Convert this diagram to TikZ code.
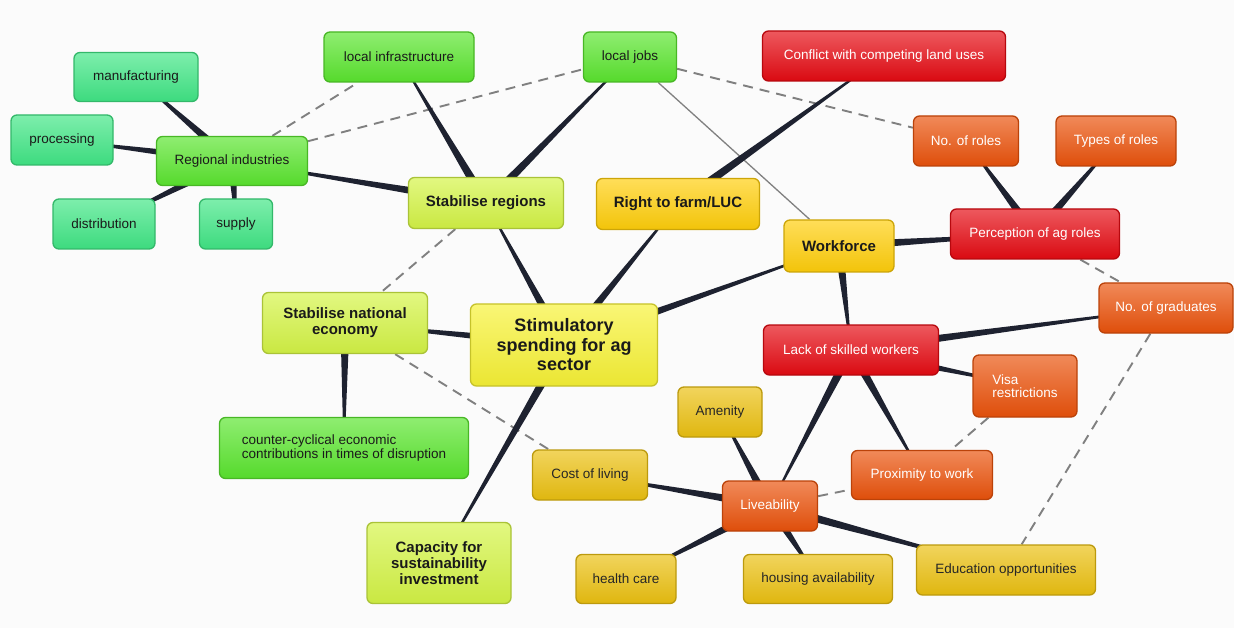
\documentclass[tikz,border=0pt]{standalone}
\usepackage{fontspec}
\setmainfont{Liberation Sans}
\usetikzlibrary{calc}

\definecolor{paper}{HTML}{FBFBFB}
\definecolor{mint}{HTML}{40E685}
\definecolor{leaf}{HTML}{5AE52E}
\definecolor{lime}{HTML}{D4F445}
\definecolor{lemon}{HTML}{F7F235}
\definecolor{gold}{HTML}{FFCE0A}
\definecolor{ochre}{HTML}{EBC010}
\definecolor{crimson}{HTML}{E50A12}
\definecolor{blaze}{HTML}{EA520B}
\definecolor{linkcol}{HTML}{1E2230}
\definecolor{inkdark}{HTML}{1A1A1A}

\pgfdeclarelayer{paperlayer}
\pgfdeclarelayer{links}
\pgfsetlayers{paperlayer,links,main}

% tapered connector: wide at the first node, narrow at the second
\newcommand\taper[2]{%
  \fill[linkcol] ($(#1)!4.6pt!90:(#2)$) -- ($(#2)!0.5pt!-90:(#1)$)
    -- ($(#2)!0.5pt!90:(#1)$) -- ($(#1)!4.6pt!-90:(#2)$) -- cycle;}

\tikzset{
  box/.style={rounded corners=6pt, line width=1.3pt, inner sep=0pt,
    align=center, text=inkdark, font=\fontsize{13.5}{14.5}\selectfont},
  sz/.style 2 args={minimum width=#1pt, minimum height=#2pt},
  tone/.style={top color=#1!68!white, middle color=#1, bottom color=#1!95!black,
    draw=#1!80!black},
  mintbox/.style={box, tone=mint},
  leafbox/.style={box, tone=leaf},
  limebox/.style={box, tone=lime, font=\bfseries\fontsize{15}{16}\selectfont},
  lemonbox/.style={box, tone=lemon, font=\bfseries\fontsize{18}{19.5}\selectfont},
  goldbox/.style={box, tone=gold, font=\bfseries\fontsize{15}{16}\selectfont},
  ochrebox/.style={box, tone=ochre, text=black!85},
  redbox/.style={box, tone=crimson, text=white},
  orangebox/.style={box, tone=blaze, text=white},
  dashlink/.style={draw=black!50, line width=1.9pt, dash pattern=on 10pt off 7pt},
  greylink/.style={draw=black!50, line width=1.3pt},
}

\begin{document}
\begin{tikzpicture}[x=1pt, y=-1pt]
\useasboundingbox (0,0) rectangle (1234,628);
\begin{pgfonlayer}{paperlayer}
  \fill[paper] (0,0) rectangle (1234,628);
\end{pgfonlayer}

% nodes
\node[mintbox, sz={124}{49}] (manu) at (136,77) {manufacturing};
\node[mintbox, sz={102}{50}] (proc) at (62,140) {processing};
\node[leafbox, sz={151}{49}] (regind) at (232,161) {Regional industries};
\node[mintbox, sz={102}{50}] (dist) at (104,224) {distribution};
\node[mintbox, sz={73}{50}] (supp) at (236,224) {supply};
\node[leafbox, sz={150}{50}] (infra) at (399,57) {local infrastructure};
\node[leafbox, sz={93}{50}] (jobs) at (630,57) {local jobs};
\node[limebox, sz={155}{51}] (stabreg) at (486,203) {Stabilise regions};
\node[goldbox, sz={163}{51}] (rtf) at (678,204) {Right to farm/LUC};
\node[redbox, sz={243}{50}] (conflict) at (884,56) {Conflict with competing land uses};
\node[orangebox, sz={105}{50}] (nroles) at (966,141) {No. of roles};
\node[orangebox, sz={120}{50}] (troles) at (1116,141) {Types of roles};
\node[redbox, sz={169}{50}] (percep) at (1035,234) {Perception of ag roles};
\node[goldbox, sz={110}{52}] (work) at (839,246) {Workforce};
\node[orangebox, sz={134}{50}] (ngrad) at (1166,308) {No. of graduates};
\node[limebox, sz={165}{61}] (stabnat) at (345,323) {Stabilise national\\economy};
\node[lemonbox, sz={187}{82}] (stim) at (564,345) {Stimulatory\\spending for ag\\sector};
\node[redbox, sz={175}{50}] (lack) at (851,350) {Lack of skilled workers};
\node[orangebox, sz={104}{62}, align=left, font=\fontsize{13.5}{13.5}\selectfont] (visa) at (1025,386) {Visa\\restrictions};
\node[leafbox, sz={249}{61}, align=left, font=\fontsize{13.5}{13.5}\selectfont] (counter) at (344,448) {counter-cyclical economic\\contributions in times of disruption};
\node[ochrebox, sz={84}{50}] (amen) at (720,412) {Amenity};
\node[ochrebox, sz={115}{50}] (cost) at (590,475) {Cost of living};
\node[orangebox, sz={141}{49}] (prox) at (922,475) {Proximity to work};
\node[orangebox, sz={95}{50}] (live) at (770,506) {Liveability};
\node[limebox, sz={144}{81}] (cap) at (439,563) {Capacity for\\sustainability\\investment};
\node[ochrebox, sz={100}{49}] (health) at (626,579) {health care};
\node[ochrebox, sz={149}{49}] (housing) at (818,579) {housing availability};
\node[ochrebox, sz={179}{50}] (edu) at (1006,570) {Education opportunities};

% connectors, behind the boxes
\begin{pgfonlayer}{links}
  \draw[dashlink] (regind) -- (infra);
  \draw[dashlink] (regind) -- (jobs);
  \draw[dashlink] (jobs) -- (nroles);
  \draw[dashlink] (stabreg) -- (stabnat);
  \draw[dashlink] (stabnat) -- (cost);
  \draw[dashlink] (percep) -- (ngrad);
  \draw[dashlink] (visa) -- (prox);
  \draw[dashlink] (live) -- (prox);
  \draw[dashlink] (ngrad) -- (edu);
  \draw[greylink] (jobs) -- (work);

  \taper{regind}{manu}
  \taper{regind}{proc}
  \taper{regind}{dist}
  \taper{regind}{supp}
  \taper{stabreg}{regind}
  \taper{stabreg}{infra}
  \taper{stabreg}{jobs}
  \taper{stim}{stabreg}
  \taper{stim}{rtf}
  \taper{stim}{work}
  \taper{stim}{stabnat}
  \taper{stim}{cap}
  \taper{rtf}{conflict}
  \taper{stabnat}{counter}
  \taper{work}{percep}
  \taper{work}{lack}
  \taper{percep}{nroles}
  \taper{percep}{troles}
  \taper{lack}{ngrad}
  \taper{lack}{visa}
  \taper{lack}{live}
  \taper{lack}{prox}
  \taper{live}{amen}
  \taper{live}{cost}
  \taper{live}{health}
  \taper{live}{housing}
  \taper{live}{edu}
\end{pgfonlayer}
\end{tikzpicture}
\end{document}
